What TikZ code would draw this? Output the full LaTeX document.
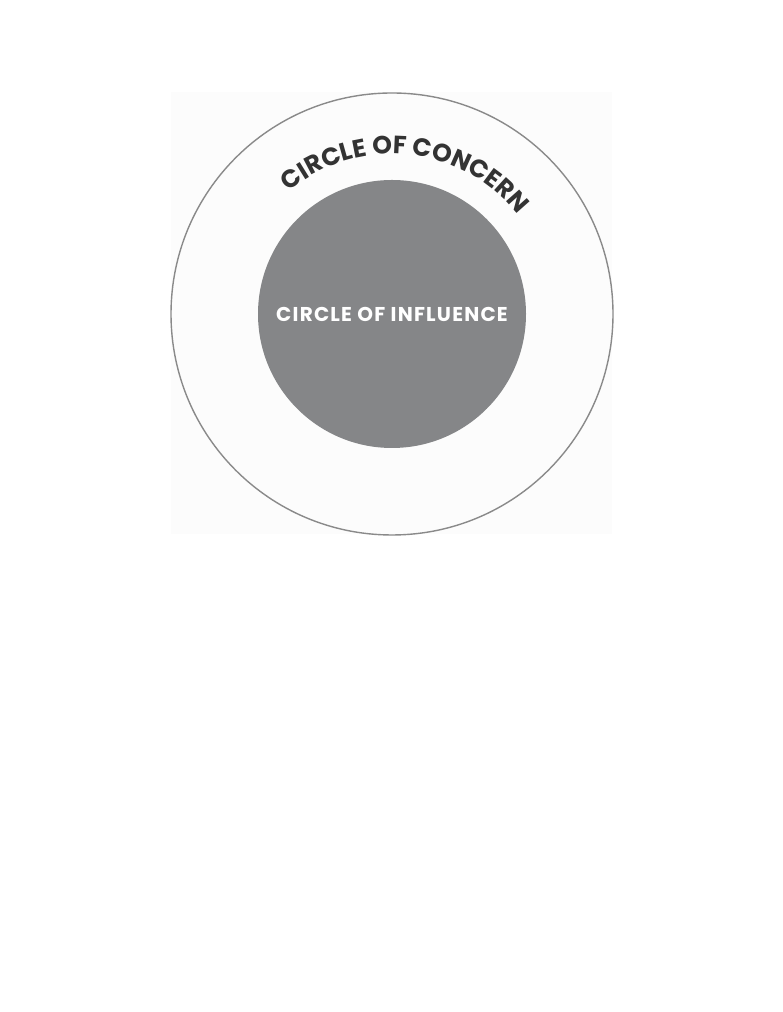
\documentclass[tikz,border=0pt]{standalone}
\usepackage{fontspec}
\newfontfamily\pop{Poppins}
\newfontfamily\popwide{Poppins}[LetterSpace=6]
\usetikzlibrary{decorations.text}
\definecolor{ringgray}{HTML}{8A8A8A}
\definecolor{innergray}{HTML}{858688}
\definecolor{textdark}{HTML}{333333}
\definecolor{bgsq}{HTML}{FCFCFC}
\tikzset{
  ring/.style={draw=ringgray, line width=1.4pt},
  disc/.style={fill=innergray},
  inlabel/.style={text=white, inner sep=0pt, font=\popwide\bfseries\fontsize{20}{20}\selectfont}
}
\begin{document}
\begin{tikzpicture}[x=1pt,y=1pt]
\useasboundingbox (0,0) rectangle (782,1012);
\fill[white] (0,0) rectangle (782,1012);
\fill[bgsq] (171,478) rectangle (612,920);
\coordinate (c) at (392,698);
\draw[ring] (c) circle[radius=221];
\fill[disc] (c) circle[radius=134];
\node[inlabel] (infl) at (c) {CIRCLE OF INFLUENCE};
\path[decorate, decoration={text along path, text align={fit to path},
  text color=textdark,
  text={|\pop\bfseries\fontsize{25}{25}\selectfont|CIRCLE OF CONCERN}}]
  ([shift={(130:160)}]c) arc[start angle=130, end angle=41, radius=160];
\end{tikzpicture}
\end{document}
